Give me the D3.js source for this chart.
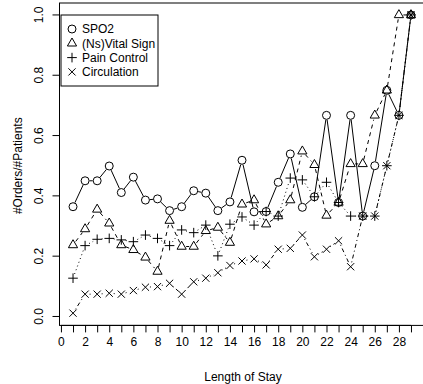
<!DOCTYPE html>
<meta charset="utf-8">
<script src="https://d3js.org/d3.v7.min.js"></script>
<style>
  body { margin: 0; background: #fff; }
  text { font-family: "Liberation Sans", Arial, sans-serif; font-size: 12px; fill: #000; }
</style>
<div id="my_dataviz"></div>
<script>

// data
const days = [1,2,3,4,5,6,7,8,9,10,11,12,13,14,15,16,17,18,19,20,21,22,23,24,25,26,27,28,29];
const spo2 = [0.364,0.450,0.450,0.499,0.411,0.462,0.386,0.390,0.351,0.364,0.417,0.409,0.351,0.380,0.518,0.347,0.348,0.445,0.539,0.362,0.397,0.667,0.378,0.667,0.333,0.500,0.750,0.667,1.0];
const vital = [0.237,0.290,0.355,0.309,0.237,0.221,0.196,0.149,0.318,0.232,0.232,0.284,0.295,0.245,0.372,0.386,0.306,0.333,0.386,0.548,0.503,0.335,0.378,0.506,0.506,0.667,0.750,1.0,1.0];
const pain = [0.127,0.235,0.256,0.259,0.254,0.248,0.270,0.259,0.235,0.287,0.278,0.303,0.201,0.306,0.330,0.303,0.348,0.333,0.459,0.453,0.397,0.445,0.378,0.333,0.333,0.333,0.500,0.667,1.0];
const circ = [0.011,0.074,0.074,0.077,0.074,0.086,0.097,0.099,0.110,0.074,0.115,0.127,0.145,0.169,0.184,0.191,0.171,0.223,0.226,0.270,0.198,0.223,0.251,0.165,0.333,0.333,0.500,0.667,1.0];
const seriesNames = ["SPO2", "(Ns)Vital Sign", "Pain Control", "Circulation"];
const xTicks = d3.range(0, 30);
const yTicks = [0, 0.2, 0.4, 0.6, 0.8, 1.0];

const width = 423, height = 384;

const svg = d3.select("#my_dataviz")
  .append("svg")
    .attr("width", width)
    .attr("height", height);

// R style: data range padded by 4%
const x = d3.scaleLinear().domain([-0.12, 30.12]).range([59.5, 424.5]);
const y = d3.scaleLinear().domain([-0.0296, 1.0396]).range([325.4, 3]);

// box
svg.append("rect")
  .attr("x", x(-0.12)).attr("y", y(1.0396))
  .attr("width", x(30.12) - x(-0.12)).attr("height", y(-0.0296) - y(1.0396))
  .attr("fill", "none").attr("stroke", "#000");

// X axis
const xAxis = svg.append("g")
  .attr("transform", `translate(0, ${y(-0.0296)})`)
  .call(d3.axisBottom(x).tickValues(xTicks).tickSize(7).tickPadding(5)
    .tickFormat(d => d % 2 === 0 ? d : ""));
xAxis.select(".domain").attr("d", `M${x(0)},0H${x(29)}`);
xAxis.selectAll("text").style("font-size", "12px").style("font-family", "Liberation Sans, Arial, sans-serif");

// Y axis
const yAxis = svg.append("g")
  .attr("transform", `translate(${x(-0.12)}, 0)`)
  .call(d3.axisLeft(y).tickValues(yTicks).tickSize(7).tickFormat(d3.format(".1f")));
yAxis.select(".domain").attr("d", `M0,${y(0)}V${y(1)}`);
yAxis.selectAll("text")
  .attr("x", null).attr("dy", null)
  .attr("transform", d => `translate(-16.5, ${y(d)}) rotate(-90)`)
  .attr("y", 0)
  .style("text-anchor", "middle")
  .style("font-size", "12px").style("font-family", "Liberation Sans, Arial, sans-serif");
yAxis.selectAll(".tick").attr("transform", "translate(0,0)");
yAxis.selectAll(".tick line").attr("transform", d => `translate(0, ${y(d)})`);

// axis titles
svg.append("text")
  .attr("x", (x(0) + x(29)) / 2 + 7).attr("y", 381)
  .attr("text-anchor", "middle")
  .text("Length of Stay");
svg.append("text")
  .attr("transform", `translate(22, ${(y(0) + y(1)) / 2}) rotate(-90)`)
  .attr("text-anchor", "middle")
  .text("#Orders/#Patients");

// symbols
function drawSymbol(g, kind, cx, cy) {
  if (kind === 0) {
    g.append("circle").attr("cx", cx).attr("cy", cy).attr("r", 4)
      .attr("fill", "none").attr("stroke", "#000");
  } else if (kind === 1) {
    g.append("path")
      .attr("d", `M${cx},${cy - 5.3}L${cx + 4.6},${cy + 2.7}L${cx - 4.6},${cy + 2.7}Z`)
      .attr("fill", "none").attr("stroke", "#000");
  } else if (kind === 2) {
    g.append("path")
      .attr("d", `M${cx - 4.8},${cy}H${cx + 4.8}M${cx},${cy - 4.8}V${cy + 4.8}`)
      .attr("stroke", "#000");
  } else {
    g.append("path")
      .attr("d", `M${cx - 3.6},${cy - 3.6}L${cx + 3.6},${cy + 3.6}M${cx - 3.6},${cy + 3.6}L${cx + 3.6},${cy - 3.6}`)
      .attr("stroke", "#000");
  }
}

const dashes = [null, "4,4", "1,3", "1,3,4,3"];
const allSeries = [spo2, vital, pain, circ];
const gap = 4.5;

allSeries.forEach(function(vals, k) {
  const g = svg.append("g");
  // lines with gaps around points (type = "b")
  for (let i = 0; i < vals.length - 1; i++) {
    const x1 = x(days[i]), y1 = y(vals[i]);
    const x2 = x(days[i + 1]), y2 = y(vals[i + 1]);
    const len = Math.hypot(x2 - x1, y2 - y1);
    if (len <= 2 * gap) continue;
    const ux = (x2 - x1) / len, uy = (y2 - y1) / len;
    g.append("line")
      .attr("x1", x1 + ux * gap).attr("y1", y1 + uy * gap)
      .attr("x2", x2 - ux * gap).attr("y2", y2 - uy * gap)
      .attr("stroke", "#000")
      .attr("stroke-dasharray", dashes[k]);
  }
  vals.forEach(function(v, i) { drawSymbol(g, k, x(days[i]), y(v)); });
});

// legend
const lg = svg.append("g");
lg.append("rect")
  .attr("x", 61).attr("y", 15).attr("width", 97).attr("height", 71)
  .attr("fill", "#fff").attr("stroke", "#000");
seriesNames.forEach(function(name, k) {
  const ly = 29 + k * 14.3;
  drawSymbol(lg, k, 72, ly);
  lg.append("text").attr("x", 82).attr("y", ly + 4.3).text(name);
});

</script>
